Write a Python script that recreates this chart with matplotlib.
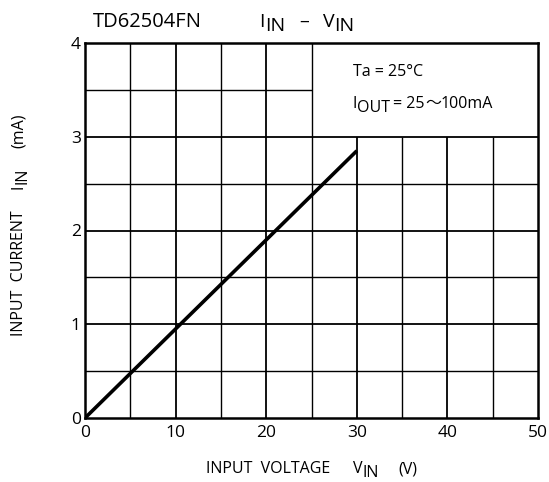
import matplotlib
matplotlib.use("Agg")
import matplotlib.pyplot as plt
from matplotlib.transforms import IdentityTransform

plt.rcParams['font.family'] = ['Open Sans', 'DejaVu Sans']

v_in = [0, 10, 20, 30]
i_in = [0, 0.95, 1.9, 2.85]
x_ticks = [0, 10, 20, 30, 40, 50]
y_ticks = [0, 1, 2, 3, 4]
x_grid = [5, 10, 15, 20, 25, 30, 35, 40, 45]
y_grid = [0.5, 1, 1.5, 2, 2.5, 3, 3.5]

W, H = 549, 482
fig = plt.figure(figsize=(W/100, H/100), dpi=100)
ax = fig.add_axes([85/W, 1-418/H, (538-85)/W, (418-43)/H])
ax.set_xlim(0, 50)
ax.set_ylim(0, 4)

box_x, box_y = 25, 3
for x in x_grid:
    top = 4 if x <= box_x else box_y
    lw = 1.3 if x % 10 == 0 else 1.0
    ax.vlines(x, 0, top, color='black', lw=lw, zorder=1)
for y in y_grid:
    right = 50 if y <= box_y else box_x
    lw = 1.3 if y % 1 == 0 else 1.0
    ax.hlines(y, 0, right, color='black', lw=lw, zorder=1)

ax.plot(v_in, i_in, color='black', lw=2.6, zorder=3, solid_capstyle='butt')

for s in ax.spines.values():
    s.set_linewidth(1.8)
ax.set_xticks(x_ticks)
ax.set_yticks(y_ticks)
ax.tick_params(length=0, labelsize=12.5)
ax.tick_params(axis='x', pad=5)
ax.tick_params(axis='y', pad=3)

fig.canvas.draw()
renderer = fig.canvas.get_renderer()


def pieces_text(x, y, pieces, size, ha='left', rotation=0, sub_drop=4):
    """pieces: list of (text, kind[, family]) where kind is 'n' normal,
    's' subscript (same size, lowered), 'g' gap in px (text is number)."""
    texts = []
    widths = []
    for p in pieces:
        txt, kind = p[0], p[1]
        if kind == 'g':
            texts.append(None)
            widths.append(float(txt))
            continue
        fam = p[2] if len(p) > 2 else None
        kw = {}
        if fam:
            kw['family'] = fam
        t = fig.text(0, 0, txt, fontsize=size, transform=IdentityTransform(),
                     va='baseline', ha='left', rotation=rotation,
                     rotation_mode='anchor', **kw)
        w = t.get_window_extent(renderer)
        widths.append(w.height if rotation == 90 else w.width)
        texts.append((t, kind))
    total = sum(widths)
    X = x
    Y = H - y
    if rotation == 90:
        start = Y - total / 2 if ha == 'center' else Y
        pos = start
        for item, w in zip(texts, widths):
            if item is not None:
                t, kind = item
                dx = sub_drop if kind == 's' else 0
                t.set_position((X + dx, pos))
            pos += w
    else:
        start = X - total / 2 if ha == 'center' else X
        pos = start
        for item, w in zip(texts, widths):
            if item is not None:
                t, kind = item
                dy = -sub_drop if kind == 's' else 0
                t.set_position((pos, Y + dy))
            pos += w


# title
pieces_text(93, 27, [('TD62504FN', 'n')], 14.5)
pieces_text(307, 27, [('I', 'n'), ('IN', 's'), (14, 'g'), ('–', 'n'), (14, 'g'),
                      ('V', 'n'), ('IN', 's')], 14, ha='center', sub_drop=4)

# annotation
pieces_text(353, 76, [('Ta = 25°C', 'n')], 11.5)
pieces_text(353, 108, [('I', 'n'), ('OUT', 's'), (3, 'g'), ('= 25', 'n'),
                       ('～', 'n', ['Noto Sans CJK JP']), ('100mA', 'n')],
            11.5, sub_drop=4)

# x label
pieces_text(312, 473, [('INPUT  VOLTAGE', 'n'), (22, 'g'), ('V', 'n'), ('IN', 's'),
                       (20, 'g'), ('(V)', 'n')], 11.5, ha='center', sub_drop=4)

# y label
pieces_text(23, 225, [('INPUT  CURRENT', 'n'), (22, 'g'), ('I', 'n'), ('IN', 's'),
                      (20, 'g'), ('(mA)', 'n')], 11.5, ha='center', rotation=90,
            sub_drop=4)

fig.savefig('out.png', dpi=100)
